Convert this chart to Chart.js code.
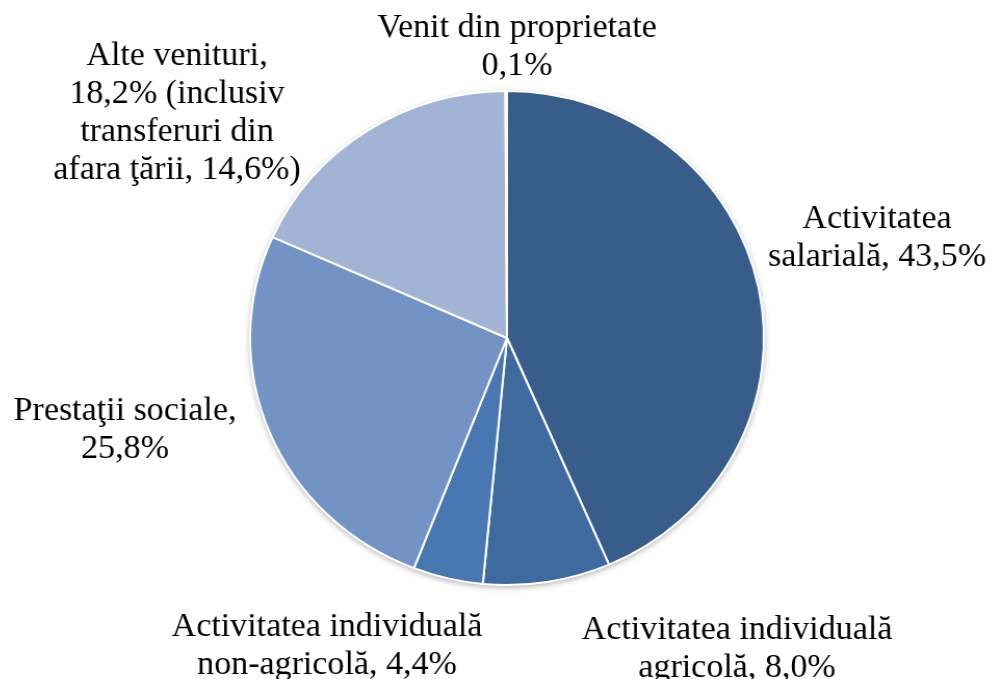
<!DOCTYPE html>
<html>
<head>
<meta charset="utf-8">
<style>
  html, body { margin: 0; padding: 0; background: #fff; overflow: hidden; }
  #wrap { width: 1003px; height: 679px; position: relative; transform: scaleX(1.04); transform-origin: 507px 0; }
</style>
<script src="https://cdn.jsdelivr.net/npm/chart.js@4"></script>
</head>
<body>
<div id="wrap"><canvas id="pie"></canvas></div>
<script>
// structura veniturilor (%), sensul acelor de ceasornic de la ora 12
const categories = ['Activitatea salarială', 'Activitatea individuală agricolă', 'Activitatea individuală non-agricolă', 'Prestaţii sociale', 'Alte venituri', 'Venit din proprietate'];
const shares = [43.5, 8.0, 4.4, 25.8, 18.2, 0.1];
const transfersAbroad = 14.6;
const labelLines = [
  ['Activitatea', 'salarială, {v}'],
  ['Activitatea individuală', 'agricolă, {v}'],
  ['Activitatea individuală', 'non-agricolă, {v}'],
  ['Prestaţii sociale,', '{v}'],
  ['Alte venituri,', '{v} (inclusiv', 'transferuri din', 'afara ţării, {t})'],
  ['Venit din proprietate', '{v}']
];

const colors = ['#395d8a', '#3f6a9e', '#4877b2', '#7393c4', '#a1b4d6', '#c4cfe5'];
// centrul textului si linia de baza a primului rand (coordonate pe pagina)
const labelPos = [
  [877, 228], [737, 639], [327, 636], [125, 420], [177, 65], [517, 37]
];
const FONT = '34px "Liberation Serif", "Times New Roman", serif';
const LINE_H = 38;
const SX = 1.04;   // placinta e putin latita pe orizontala in original
const CX = 507;

const pct = v => v.toFixed(1).replace('.', ',') + '%';

const shadowPlugin = {
  id: 'pieShadow',
  beforeDatasetsDraw(chart) {
    const arc = chart.getDatasetMeta(0).data[0];
    if (!arc) return;
    const ctx = chart.ctx;
    ctx.save();
    ctx.shadowColor = 'rgba(0,0,0,0.35)';
    ctx.shadowBlur = 6;
    ctx.shadowOffsetY = 2;
    ctx.fillStyle = '#fff';
    ctx.beginPath();
    ctx.arc(arc.x, arc.y, arc.outerRadius, 0, Math.PI * 2);
    ctx.fill();
    ctx.restore();
  }
};

const labelPlugin = {
  id: 'outLabels',
  afterDraw(chart) {
    const ctx = chart.ctx;
    ctx.save();
    // anuleaza latirea pentru text
    ctx.translate(CX, 0);
    ctx.scale(1 / SX, 1);
    ctx.translate(-CX, 0);
    ctx.font = FONT;
    ctx.fillStyle = '#000';
    ctx.textAlign = 'center';
    ctx.textBaseline = 'alphabetic';
    labelLines.forEach((lines, i) => {
      const [x, y] = labelPos[i];
      lines.forEach((ln, k) => {
        const txt = ln.replace('{v}', pct(shares[i])).replace('{t}', pct(transfersAbroad));
        ctx.fillText(txt, x, y + k * LINE_H);
      });
    });
    ctx.restore();
  }
};

new Chart(document.getElementById('pie'), {
  type: 'pie',
  data: {
    labels: categories,
    datasets: [{
      data: shares,
      backgroundColor: colors,
      borderColor: '#fff',
      borderWidth: 2
    }]
  },
  options: {
    responsive: true,
    maintainAspectRatio: false,
    animation: false,
    layout: { padding: { left: 259, right: 248, top: 90, bottom: 93 } },
    plugins: { legend: { display: false }, tooltip: { enabled: false } }
  },
  plugins: [shadowPlugin, labelPlugin]
});
</script>
</body>
</html>
